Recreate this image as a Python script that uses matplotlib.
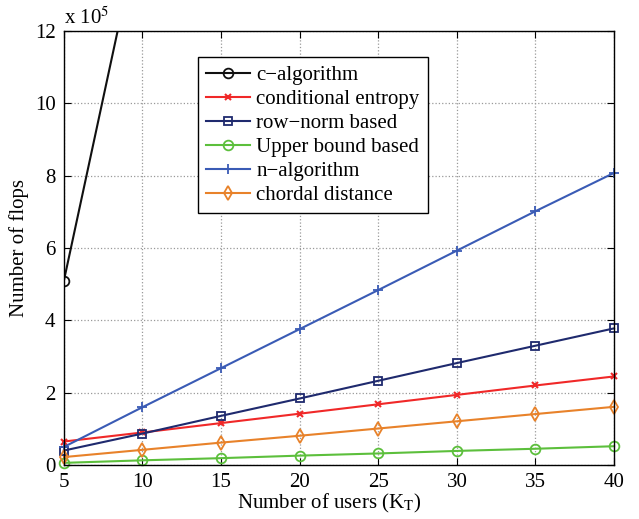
import matplotlib.pyplot as plt
import numpy as np

plt.rcParams['font.family'] = ['Liberation Serif', 'DejaVu Serif']
plt.rcParams['mathtext.fontset'] = 'stix'

# number of users
users = [5, 10, 15, 20, 25, 30, 35, 40]

# flops, in units of 1e5
c_alg = [5.1, 15.2, 30.0, 50.0, 75.0, 105.0, 140.0, 180.0]
cond_entropy = [0.65, 0.90, 1.16, 1.42, 1.68, 1.94, 2.20, 2.45]
row_norm = [0.40, 0.87, 1.36, 1.84, 2.33, 2.82, 3.30, 3.78]
upper_bound = [0.06, 0.13, 0.19, 0.26, 0.32, 0.39, 0.45, 0.52]
n_alg = [0.50, 1.60, 2.68, 3.76, 4.84, 5.93, 7.02, 8.08]
chordal = [0.22, 0.42, 0.62, 0.81, 1.01, 1.21, 1.41, 1.61]

labels = ['c\u2212algorithm', 'conditional entropy', 'row\u2212norm based',
          'Upper bound based', 'n\u2212algorithm', 'chordal distance']

fig = plt.figure(figsize=(6.39, 5.19), dpi=100)
ax = fig.add_axes([0.100, 0.104, 0.861, 0.836])

# c-algorithm runs off the top, so keep it clipped
ax.plot(users, c_alg, color='#101010', marker='o', ms=7, mfc='none', mew=1.3, lw=1.5, label=labels[0])
ax.plot(users, cond_entropy, color='#f02828', marker='x', ms=5, mew=1.5, lw=1.5, label=labels[1], clip_on=False)
ax.plot(users, row_norm, color='#1f2a6e', marker='s', ms=6, mfc='none', mew=1.3, lw=1.5, label=labels[2], clip_on=False)
ax.plot(users, upper_bound, color='#5cbf3c', marker='o', ms=7, mfc='none', mew=1.3, lw=1.5, label=labels[3], clip_on=False)
ax.plot(users, n_alg, color='#3a5bb5', marker='+', ms=7, mew=1.3, lw=1.5, label=labels[4], clip_on=False)
ax.plot(users, chordal, color='#e8822a', marker='d', ms=7, mfc='none', mew=1.3, lw=1.5, label=labels[5], clip_on=False)

ax.set_xlim(5, 40)
ax.set_ylim(0, 12)
ax.set_xticks(users)
ax.set_yticks([0, 2, 4, 6, 8, 10, 12])
ax.tick_params(direction='in', top=True, right=True, labelsize=15, length=5, pad=6)
ax.grid(True, linestyle=':', color='#999999', linewidth=0.9)
for s in ax.spines.values():
    s.set_linewidth(1.0)
    s.set_zorder(3)

ax.set_xlabel('Number of users (K$_\\mathrm{T}$)', fontsize=15)
ax.xaxis.set_label_coords(0.482, -0.062)
ax.set_ylabel('Number of flops', fontsize=15, labelpad=4)
ax.text(0.0, 1.005, 'x 10$^\\mathrm{5}$', transform=ax.transAxes, fontsize=15,
        ha='left', va='bottom')

leg = ax.legend(loc='upper left', bbox_to_anchor=(0.2436, 0.940), fontsize=15,
                fancybox=False, edgecolor='black', framealpha=1,
                handlelength=2.1, borderpad=0.4, labelspacing=0.21, handletextpad=0.3,
                borderaxespad=0)
leg.get_frame().set_linewidth(1.0)

fig.savefig('out.png', dpi=100)
